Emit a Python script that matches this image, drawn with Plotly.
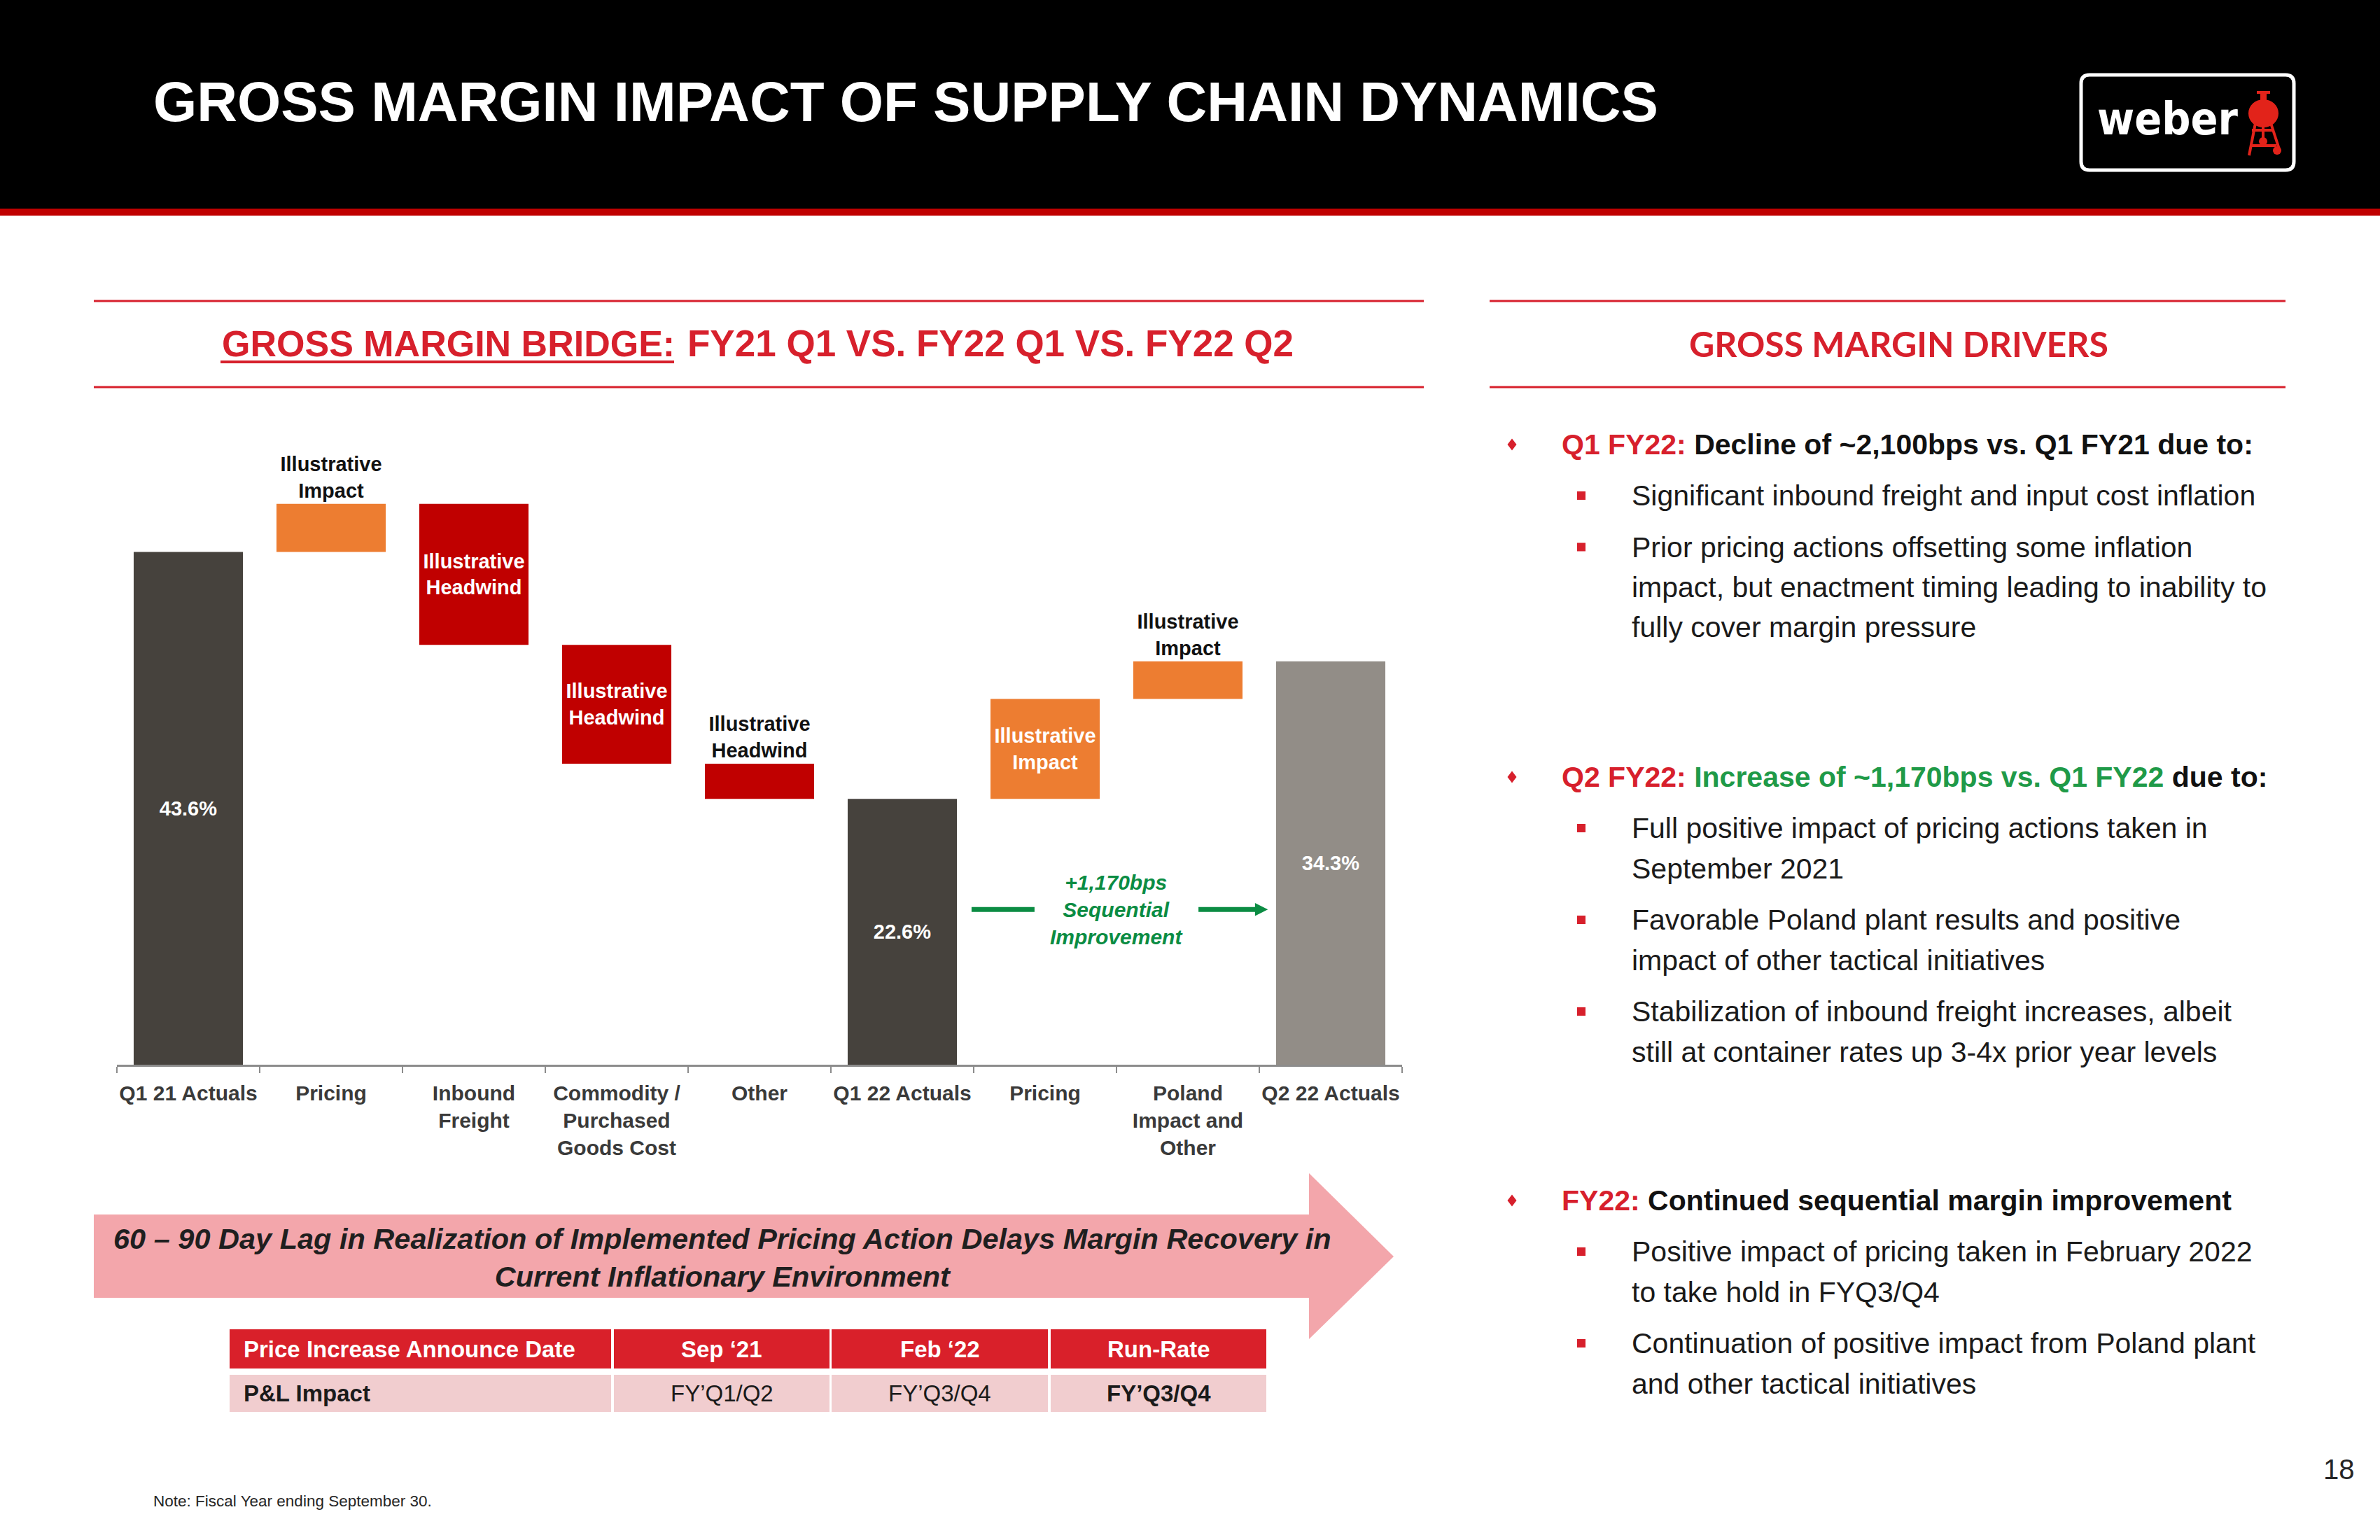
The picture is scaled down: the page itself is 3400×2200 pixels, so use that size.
import plotly.graph_objects as go

# ---------------- data ----------------
categories = ["Q1 21 Actuals", "Pricing", "Inbound<br>Freight",
              "Commodity /<br>Purchased<br>Goods Cost", "Other",
              "Q1 22 Actuals", "Pricing", "Poland<br>Impact and<br>Other",
              "Q2 22 Actuals"]
values = [43.6, 4.1, -12.0, -10.1, -3.0, 22.6, 8.5, 3.2, 34.3]
measures = ["total", "relative", "relative", "relative", "relative",
            "total", "relative", "relative", "total"]
seq_label = ["+1,170bps", "Sequential", "Improvement"]

table_header = ["Price Increase Announce Date", "Sep \u201821", "Feb \u201822", "Run-Rate"]
table_row = ["P&L Impact", "FY\u2019Q1/Q2", "FY\u2019Q3/Q4", "FY\u2019Q3/Q4"]

title_text = "GROSS MARGIN IMPACT OF SUPPLY CHAIN DYNAMICS"
subtitle_a = "GROSS MARGIN BRIDGE:"
subtitle_b = "FY21 Q1 VS. FY22 Q1 VS. FY22 Q2"
drivers_title = "GROSS MARGIN DRIVERS"
banner_text = ["60 \u2013 90 Day Lag in Realization of Implemented Pricing Action Delays Margin Recovery in",
               "Current Inflationary Environment"]
note_text = "Note: Fiscal Year ending September 30."
page_no = "18"

drivers = [
    {"lead": "Q1 FY22:",
     "parts": [("Decline of ~2,100bps vs. Q1 FY21 due to:", "black")],
     "bullets": [["Significant inbound freight and input cost inflation"],
                 ["Prior pricing actions offsetting some inflation",
                  "impact, but enactment timing leading to inability to",
                  "fully cover margin pressure"]]},
    {"lead": "Q2 FY22:",
     "parts": [("Increase of ~1,170bps vs. Q1 FY22", "green"), (" due to:", "black")],
     "bullets": [["Full positive impact of pricing actions taken in", "September 2021"],
                 ["Favorable Poland plant results and positive",
                  "impact of other tactical initiatives"],
                 ["Stabilization of inbound freight increases, albeit",
                  "still at container rates up 3-4x prior year levels"]]},
    {"lead": "FY22:",
     "parts": [("Continued sequential margin improvement", "black")],
     "bullets": [["Positive impact of pricing taken in February 2022",
                  "to take hold in FYQ3/Q4"],
                 ["Continuation of positive impact from Poland plant",
                  "and other tactical initiatives"]]},
]

# ---------------- styles ----------------
W, H = 3400, 2200
FONT = "Liberation Sans, Arial, sans-serif"
DARK = "#46423D"
GREY = "#928D87"
ORANGE = "#ED7D31"
RED = "#C00000"
BRAND_RED = "#D7202C"
GREEN = "#0B8C43"
TXT_GREEN = "#1F9A48"
AXIS = "#8C8C8C"
PINK = "#F3A6AB"
ROW_PINK = "#F1CDCF"
HDR_RED = "#D9202A"


def X(p):
    return p / W


def Y(p):
    return 1 - p / H


shapes = []
annotations = []


def rect(x0, y0, x1, y1, color, line=None, layer="below"):
    d = dict(type="rect", xref="paper", yref="paper", x0=X(x0), x1=X(x1),
             y0=Y(y0), y1=Y(y1), fillcolor=color, layer=layer,
             line=dict(width=0) if line is None else line)
    shapes.append(d)


def hline(x0, x1, y, color, width):
    shapes.append(dict(type="line", xref="paper", yref="paper", x0=X(x0), x1=X(x1),
                       y0=Y(y), y1=Y(y), line=dict(color=color, width=width)))


def poly(points, color):
    path = "M " + " L ".join(f"{X(a):.6f},{Y(b):.6f}" for a, b in points) + " Z"
    shapes.append(dict(type="path", xref="paper", yref="paper", path=path,
                       fillcolor=color, line=dict(width=0)))


def text(x, y, s, size, color="#000000", bold=False, italic=False,
         xanchor="left", family=FONT, align="left"):
    if bold:
        s = f"<b>{s}</b>"
    if italic:
        s = f"<i>{s}</i>"
    annotations.append(dict(xref="paper", yref="paper", x=X(x), y=Y(y), text=s,
                            showarrow=False, xanchor=xanchor, yanchor="middle",
                            align=align, font=dict(family=family, size=size, color=color)))


# ---------------- header ----------------
rect(0, 0, W, 298, "#000000")
rect(0, 298, W, 308, RED)
text(217, 145, title_text, 80, "white", bold=True)

# logo
shapes.append(dict(type="path", xref="paper", yref="paper",
                   path=(f"M {X(2985)},{Y(107)} L {X(3265)},{Y(107)} Q {X(3277)},{Y(107)} {X(3277)},{Y(119)} "
                         f"L {X(3277)},{Y(231)} Q {X(3277)},{Y(243)} {X(3265)},{Y(243)} "
                         f"L {X(2985)},{Y(243)} Q {X(2973)},{Y(243)} {X(2973)},{Y(231)} "
                         f"L {X(2973)},{Y(119)} Q {X(2973)},{Y(107)} {X(2985)},{Y(107)} Z"),
                   line=dict(color="white", width=5)))
text(3097, 170, "weber", 64, "white", bold=True, xanchor="center",
     family="Liberation Sans Narrow, DejaVu Sans Condensed, Liberation Sans")
GR = "#E2231A"
shapes.append(dict(type="circle", xref="paper", yref="paper", x0=X(3212), x1=X(3255),
                   y0=Y(142), y1=Y(182), fillcolor=GR, line=dict(width=0)))
rect(3229, 132, 3238, 144, GR, layer="above")
rect(3224, 130, 3243, 134, GR, layer="above")
for (a, b, c, d) in [(3222, 176, 3213, 222), (3244, 176, 3257, 216), (3233, 180, 3233, 203),
                     (3217, 186, 3249, 186), (3216, 208, 3252, 208)]:
    shapes.append(dict(type="line", xref="paper", yref="paper", x0=X(a), y0=Y(b),
                       x1=X(c), y1=Y(d), line=dict(color=GR, width=4)))
shapes.append(dict(type="circle", xref="paper", yref="paper", x0=X(3247), x1=X(3259),
                   y0=Y(209), y1=Y(221), fillcolor=GR, line=dict(width=0)))
shapes.append(dict(type="circle", xref="paper", yref="paper", x0=X(3227), x1=X(3239),
                   y0=Y(196), y1=Y(208), fillcolor=GR, line=dict(width=0)))

# ---------------- left section heading ----------------
hline(134, 2034, 430, BRAND_RED, 3)
hline(134, 2034, 553, BRAND_RED, 3)
text(315, 491, subtitle_a, 52, BRAND_RED, bold=True)
text(980, 491, subtitle_b, 53, BRAND_RED, bold=True)
hline(315, 963, 517, BRAND_RED, 4)

# ---------------- right section heading ----------------
hline(2128, 3265, 430, BRAND_RED, 3)
hline(2128, 3265, 553, BRAND_RED, 3)
text(2712, 491, drivers_title, 50, BRAND_RED, bold=True, xanchor="center",
     family="Lato, Open Sans, sans-serif")

# ---------------- drivers ----------------
head_y = [635, 1110, 1715]
COLS = {"black": "#111111", "green": TXT_GREEN}
for blk, hy in zip(drivers, head_y):
    poly([(2160, hy - 8.5), (2166.5, hy), (2160, hy + 8.5), (2153.5, hy)], BRAND_RED)
    s = f"<span style='color:{BRAND_RED}'>{blk['lead']}</span> " + "".join(
        f"<span style='color:{COLS[c]}'>{t}</span>" for t, c in blk["parts"])
    text(2229, hy, s, 41, "#111111", bold=True)
    y = hy + 73
    for bullet in blk["bullets"]:
        rect(2253, y - 6, 2265, y + 6, BRAND_RED)
        for k, line in enumerate(bullet):
            text(2329, y, line, 41, "#1A1A1A")
            if k < len(bullet) - 1:
                y += 57.5
        y += 73.5

# ---------------- banner arrow ----------------
poly([(134, 1735), (1870, 1735), (1870, 1676), (1991, 1795), (1870, 1913),
      (1870, 1854), (134, 1854)], PINK)
annotations.append(dict(xref="paper", yref="paper", x=X(1032), y=Y(1796),
                        text="<b><i>" + "<br>".join(banner_text) + "</i></b>",
                        showarrow=False, xanchor="center", yanchor="middle", align="center",
                        font=dict(family=FONT, size=41.5, color="#1F1F1F")))

# ---------------- table ----------------
col_x = [(328, 873), (877, 1185), (1188, 1497), (1501, 1809)]
row_bold = [True, False, False, True]
for i, (x0, x1) in enumerate(col_x):
    rect(x0, 1899, x1, 1955, HDR_RED)
    rect(x0, 1964, x1, 2017, ROW_PINK)
    if i == 0:
        text(x0 + 18, 1927, table_header[i], 33, "white", bold=True)
        text(x0 + 18, 1990, table_row[i], 33, "#1A1A1A", bold=True)
    else:
        cx = (x0 + x1) / 2
        text(cx, 1927, table_header[i], 33, "white", bold=True, xanchor="center")
        text(cx, 1990, table_row[i], 33, "#1A1A1A", bold=row_bold[i], xanchor="center")

text(217, 2144, note_text, 22.5, "#262626")
text(3341, 2099, page_no, 40, "#262626", xanchor="center")

# ---------------- waterfall bars ----------------
bases, heights, colors, texts, positions, tcolors = [], [], [], [], [], []
running = 0.0
n_tot = measures.count("total")
ti = 0
for v, m in zip(values, measures):
    if m == "total":
        ti += 1
        bases.append(0.0)
        heights.append(v)
        running = v
        colors.append(GREY if ti == n_tot else DARK)
        texts.append(f"{v:.1f}%")
        positions.append("inside")
        tcolors.append("white")
    else:
        bases.append(running if v > 0 else running + v)
        heights.append(abs(v))
        running += v
        colors.append(ORANGE if v > 0 else RED)
        texts.append("Illustrative<br>" + ("Impact" if v > 0 else "Headwind"))
        big = abs(v) >= 5
        positions.append("inside" if big else "outside")
        tcolors.append("white" if big else "#111111")

xs = list(range(len(categories)))
fig = go.Figure(go.Bar(
    x=xs, y=heights, base=bases, width=0.765,
    marker=dict(color=colors, line=dict(width=0)),
    text=texts, textposition=positions, insidetextanchor="middle",
    textfont=dict(family=FONT, size=29, color=tcolors, weight="bold"),
    constraintext="none", cliponaxis=False, hoverinfo="skip", showlegend=False))

# green sequential improvement arrow (data coordinates)
y_seq = 13.2
fig.add_shape(type="line", xref="x", yref="y", x0=5.485, x1=5.926, y0=y_seq, y1=y_seq,
              line=dict(color=GREEN, width=7))
fig.add_shape(type="line", xref="x", yref="y", x0=7.074, x1=7.48, y0=y_seq, y1=y_seq,
              line=dict(color=GREEN, width=7))
fig.add_shape(type="path", xref="x", yref="y",
              path=f"M 7.47,{y_seq + 0.55} L 7.56,{y_seq} L 7.47,{y_seq - 0.55} Z",
              fillcolor=GREEN, line=dict(width=0))
fig.add_annotation(xref="x", yref="y", x=6.5, y=y_seq,
                   text="<b><i>" + "<br>".join(seq_label) + "</i></b>",
                   showarrow=False, xanchor="center", yanchor="middle", align="center",
                   font=dict(family=FONT, size=30, color=GREEN))

for s in shapes:
    fig.add_shape(**s)
for a in annotations:
    fig.add_annotation(**a)

fig.update_layout(
    width=W, height=H, margin=dict(l=0, r=0, t=0, b=0),
    paper_bgcolor="white", plot_bgcolor="rgba(0,0,0,0)",
    font=dict(family=FONT), showlegend=False, bargap=0.235,
    xaxis=dict(domain=[X(167), X(2003)], range=[-0.5, 8.5],
               tickmode="array", tickvals=xs, ticktext=categories, tickangle=0,
               ticks="", showline=True, linecolor=AXIS, linewidth=3,
               showgrid=False, zeroline=False, fixedrange=True,
               tickfont=dict(family=FONT, size=30, color="#3A3A3A", weight="bold"),
               ticklabelstandoff=12,
               minor=dict(tickmode="array", tickvals=[i - 0.5 for i in range(len(xs) + 1)],
                          ticks="outside", ticklen=9, tickwidth=2, tickcolor=AXIS,
                          showgrid=False)),
    yaxis=dict(domain=[Y(1521), Y(681)], range=[0, 50], visible=False, fixedrange=True),
)

fig.write_html("out.html", config={"displayModeBar": False},
               post_script="document.body.style.margin='0';")
